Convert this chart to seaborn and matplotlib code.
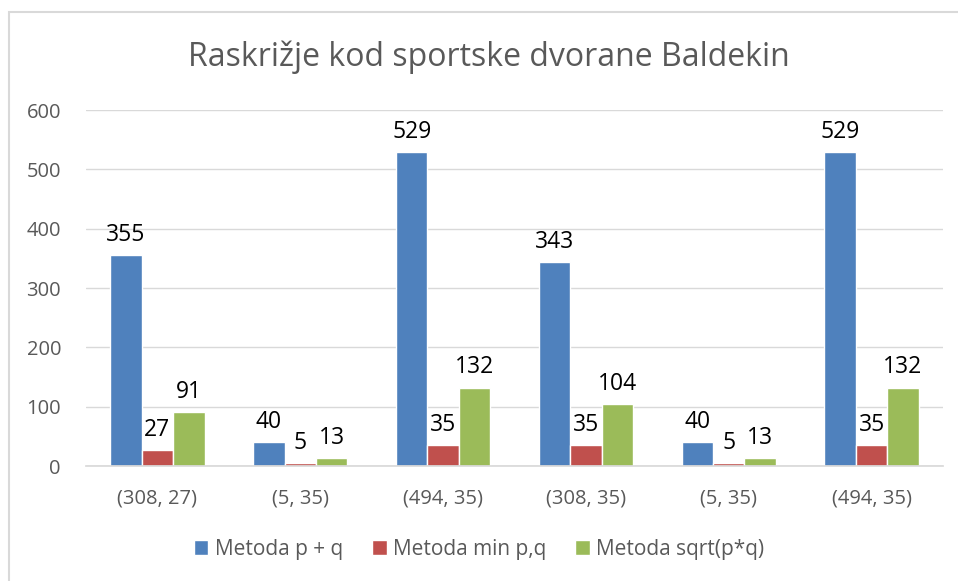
import pandas as pd
import matplotlib.pyplot as plt
import seaborn as sns
from matplotlib.patches import Rectangle

# data
categories = ["(308, 27)", "(5, 35)", "(494, 35)", "(308, 35)", "(5, 35)", "(494, 35)"]
series_names = ["Metoda p + q", "Metoda min p,q", "Metoda sqrt(p*q)"]
sum_vals = [355, 40, 529, 343, 40, 529]
min_vals = [27, 5, 35, 35, 5, 35]
sqrt_vals = [91, 13, 132, 104, 13, 132]
colors = ["#4F81BD", "#C0504D", "#9BBB59"]

sns.set_theme(style="white")
plt.rcParams['font.family'] = ['Open Sans', 'DejaVu Sans']

# categories repeat, so key them by position and relabel the ticks afterwards
rows = []
for i, cat in enumerate(categories):
    for name, vals in zip(series_names, [sum_vals, min_vals, sqrt_vals]):
        rows.append({"key": i, "series": name, "value": vals[i]})
df = pd.DataFrame(rows)

W, H = 958, 581
fig = plt.figure(figsize=(W / 100, H / 100), dpi=100)
ax = fig.add_axes([86 / W, 1 - 466 / H, 857 / W, 356 / H])

sns.barplot(data=df, x="key", y="value", hue="series", hue_order=series_names,
            palette=colors, width=0.66, saturation=1, ax=ax, legend=True)

for cont in ax.containers:
    ax.bar_label(cont, padding=6, fontsize=16.5, color="black")

ax.set_xlim(-0.5, len(categories) - 0.5)
ax.set_ylim(0, 600)
ax.set_yticks(range(0, 601, 100))
ax.yaxis.grid(True, color="#D9D9D9", linewidth=1)
ax.set_axisbelow(True)
ax.set_xticks(range(len(categories)))
ax.set_xticklabels(categories)
ax.tick_params(axis="both", colors="#595959", labelsize=14.5, length=0)
ax.tick_params(axis="x", pad=16)
ax.tick_params(axis="y", pad=18)
ax.set_xlabel("")
ax.set_ylabel("")
for side in ["top", "right", "left"]:
    ax.spines[side].set_visible(False)
ax.spines["bottom"].set_color("#D9D9D9")

ax.legend(loc="center", bbox_to_anchor=(0.5, 1 - 549 / H), bbox_transform=fig.transFigure,
          ncol=3, frameon=False, fontsize=15, handlelength=0.7, handleheight=0.7,
          columnspacing=1.4, handletextpad=0.3, labelcolor="#595959")

fig.suptitle("Raskrižje kod sportske dvorane Baldekin", x=0.51, y=1 - 57 / H, va="center",
             fontsize=23, color="#595959")

fig.patches.append(Rectangle((9 / W, -0.01), 1.0, 1 - 12 / H + 0.01,
                             transform=fig.transFigure, fill=False,
                             edgecolor="#D9D9D9", linewidth=1.5))

plt.savefig("out.png", dpi=100)
